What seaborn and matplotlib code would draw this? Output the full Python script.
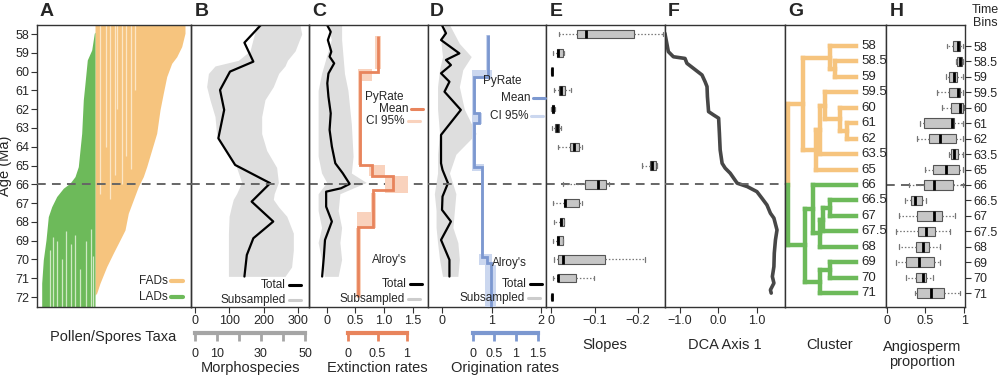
import numpy as np
import pandas as pd
import matplotlib.pyplot as plt
import seaborn as sns
from matplotlib.lines import Line2D

sns.set_style('ticks')
plt.rcParams['font.family'] = ['Liberation Sans', 'DejaVu Sans']

# ---------------- data ----------------
# A: taxa ranges (boundary of the LAD / FAD blocks)
lad_x = [4.4, 6.0, 8.7, 11.0, 14.4, 19.4, 26.0, 32.7, 37.7, 41.0, 42.7, 44.4, 46.0, 47.7, 50.0, 54.4, 57.0, 57.7]
lad_age = [71.26, 70.02, 68.96, 67.72, 67.19, 66.65, 66.21, 65.94, 65.59, 65.06, 64.17, 63.28, 61.51, 60.62, 59.38, 58.85, 57.96, 57.9]
fad_x = [57.7, 59.4, 62.7, 69.4, 76.0, 82.7, 87.7, 91.0, 96.0, 101.0, 106.0, 109.4, 114.4, 119.4, 122.7, 126.0, 129.4, 134.4, 139.4, 144.4, 147.7]
fad_age = [71.9, 71.79, 71.26, 70.38, 69.66, 68.96, 68.43, 67.54, 66.83, 66.12, 65.59, 65.06, 64.17, 63.28, 62.04, 61.15, 60.27, 59.56, 59.21, 58.67, 57.96]
fad_gap_x = [62.7, 68.7, 72.7, 77.7, 80.0, 84.4, 88.7, 93.3, 97.7]
fad_gap_end = [66.5, 64.0, 66.8, 65.5, 62.0, 66.0, 64.5, 65.2, 61.0]
lad_gap_x = [12.7, 16.0, 20.0, 24.4, 28.7, 33.3, 37.7, 42.7, 48.7, 53.3, 56.0]
lad_gap_end = [69.5, 68.8, 69.0, 70.0, 68.5, 69.2, 68.7, 70.5, 69.0, 68.4, 69.8]

# B: morphospecies
b_age = [57.52, 58.46, 59.47, 60.0, 60.98, 62.04, 63.55, 64.97, 65.94, 66.92, 67.98, 68.87, 69.76, 70.91]
b_total = [192, 144, 170, 102, 73, 85, 68, 117, 219, 165, 228, 170, 151, 144]
b_sub_age = [57.5, 58.0, 58.9, 59.4, 59.7, 60.1, 60.8, 61.5, 62.4, 63.3, 64.2, 65.1, 65.9, 66.5, 66.8, 67.2, 67.7, 68.6, 69.5, 70.4, 70.9]
b_sub_lo = [28, 27, 25, 19.7, 9.1, 6.1, 5.3, 6.8, 9.1, 9.8, 13.6, 18.9, 21.2, 18.9, 17.4, 16.5, 15.5, 15.2, 15.2, 15.2, 15.2]
b_sub_hi = [47.7, 48.5, 45.5, 42, 40.9, 38, 35.6, 31.8, 30.3, 30.3, 32.6, 37.1, 37.9, 36, 35.6, 38, 41.7, 44.7, 44.7, 43.9, 40.9]

# C: extinction rates
c_age = [57.43, 57.88, 58.32, 58.94, 59.2, 59.56, 60.1, 60.62, 61.33, 62.22, 63.1, 63.99, 64.88, 65.41, 65.98, 66.21, 66.39, 67.19, 67.98, 68.96, 69.85, 70.91]
c_total = [-0.01, 0.07, 0.02, 0.08, 0.05, 0.13, 0.03, 0.01, 0.03, 0.07, 0.05, 0.09, 0.15, 0.28, 0.40, 0.25, -0.01, -0.01, 0.09, -0.03, -0.05, -0.08]
c_sub_age = [57.5, 58.3, 60.1, 61.0, 62.8, 64.5, 65.4, 65.9, 66.5, 67.4, 68.3, 69.1, 70.0, 70.9]
c_sub_lo = [0.02, 0.08, -0.09, -0.15, -0.15, -0.15, -0.09, 0.0, -0.15, -0.15, -0.09, -0.15, -0.09, -0.04]
c_sub_hi = [0.26, 0.26, 0.31, 0.37, 0.43, 0.46, 0.43, 0.69, 0.23, 0.20, 0.26, 0.23, 0.26, 0.20]
c_mean_edges = [58.1, 60.0, 64.95, 65.55, 66.3, 68.25, 72.0]
c_mean = [0.51, 0.195, 0.40, 0.77, 0.43, 0.17]
c_ci_edges = [58.1, 59.85, 60.5, 64.95, 65.55, 66.45, 67.5, 68.35, 72.0]
c_ci_lo = [0.46, 0.17, 0.16, 0.36, 0.62, 0.39, 0.15, 0.13]
c_ci_hi = [0.56, 0.40, 0.23, 0.62, 1.02, 0.48, 0.48, 0.21]

# D: origination rates
d_age = [57.43, 57.96, 58.32, 59.03, 59.38, 59.65, 60.09, 60.54, 61.07, 62.04, 63.37, 64.88, 65.23, 65.94, 66.65, 67.36, 67.98, 68.96, 70.02, 70.91]
d_total = [-0.02, 0.08, -0.02, 0.35, 0.08, 0.18, -0.02, 0.15, 0.05, 0.38, -0.02, -0.02, 0.01, 0.12, 0.01, 0.0, 0.18, -0.02, 0.15, 0.15]
d_sub_age = [57.5, 58.5, 59.2, 59.9, 60.8, 62.0, 63.3, 64.4, 65.4, 66.5, 67.4, 68.3, 69.1, 70.0, 70.9]
d_sub_lo = [0.05, -0.02, 0.01, -0.05, -0.09, -0.09, -0.05, -0.09, -0.09, -0.155, -0.12, -0.12, -0.09, -0.05, 0.01]
d_sub_hi = [0.15, 0.35, 0.59, 0.42, 0.35, 0.45, 0.69, 0.28, 0.15, 0.28, 0.25, 0.22, 0.32, 0.35, 0.32]
d_mean_edges = [58.05, 60.27, 62.22, 62.75, 65.06, 69.85, 70.2, 72.53]
d_mean = [0.35, 0.04, 0.15, 0.04, 0.23, 0.33, 0.42]
d_ci_edges = [58.05, 59.9, 60.4, 62.2, 62.8, 64.9, 65.3, 69.7, 70.3, 72.53]
d_ci_lo = [0.31, 0.0, 0.0, 0.0, 0.0, 0.0, 0.19, 0.15, 0.30]
d_ci_hi = [0.40, 0.45, 0.08, 0.22, 0.08, 0.27, 0.27, 0.45, 0.55]

# E: slopes per 1 Myr bin
e_ages = [58, 59, 60, 61, 62, 63, 64, 65, 66, 67, 68, 69, 70, 71, 72]
e_low = [-0.018, -0.004, -0.001, -0.006, -0.001, -0.002, -0.017, -0.208, -0.027, -0.004, -0.008, -0.004, -0.008, -0.004, -0.001]
e_q1 = [-0.059, -0.014, -0.0015, -0.019, -0.002, -0.010, -0.044, -0.227, -0.078, -0.030, -0.020, -0.014, -0.015, -0.015, -0.0015]
e_med = [-0.081, -0.017, -0.002, -0.023, -0.005, -0.014, -0.053, -0.233, -0.108, -0.032, -0.024, -0.017, -0.027, -0.017, -0.002]
e_q3 = [-0.19, -0.027, -0.0025, -0.032, -0.008, -0.019, -0.064, -0.241, -0.127, -0.064, -0.030, -0.027, -0.123, -0.058, -0.0025]
e_high = [-0.257, -0.029, -0.003, -0.047, -0.009, -0.022, -0.072, -0.243, -0.133, -0.072, -0.031, -0.028, -0.216, -0.098, -0.003]

# F: DCA axis 1
f_age = [57.96, 58.5, 58.94, 59.21, 59.3, 59.56, 59.83, 60.18, 60.54, 60.8, 61.33, 62.13, 62.31, 62.48, 63.28, 64.17, 64.88, 65.14, 65.41, 65.94, 66.12, 66.39, 66.74, 67.1, 67.54, 67.8, 68.43, 68.96, 69.66, 70.38, 70.91, 71.26, 71.62, 71.79]
f_dca = [-1.38, -1.33, -1.29, -1.16, -0.86, -0.81, -0.64, -0.42, -0.34, -0.29, -0.28, -0.25, -0.12, 0.01, 0.03, 0.05, 0.10, 0.18, 0.31, 0.49, 0.75, 1.00, 1.13, 1.26, 1.35, 1.44, 1.52, 1.48, 1.45, 1.44, 1.40, 1.44, 1.35, 1.37]

# G/H: time bins, clustering and angiosperm proportion
bins = ['58', '58.5', '59', '59.5', '60', '61', '62', '63.5', '65', '66', '66.5', '67', '67.5', '68', '69', '70', '71']
merges = [(1, 2, 0.306), (0, 17, 0.388), (5, 6, 0.136), (4, 19, 0.243), (3, 20, 0.451), (21, 7, 0.534),
          (22, 8, 0.583), (18, 23, 0.777), (14, 15, 0.379), (25, 16, 0.534), (10, 11, 0.379), (27, 12, 0.485),
          (28, 13, 0.534), (9, 29, 0.631), (30, 26, 0.743), (24, 31, 1.0)]
h_low = [0.778, 0.897, 0.769, 0.650, 0.714, 0.436, 0.393, 0.799, 0.500, 0.286, 0.231, 0.158, 0.115, 0.158, 0.124, 0.248, 0.359]
h_q1 = [0.863, 0.906, 0.799, 0.799, 0.829, 0.487, 0.551, 0.829, 0.598, 0.487, 0.316, 0.385, 0.402, 0.372, 0.248, 0.372, 0.385]
h_med = [0.919, 0.949, 0.872, 0.915, 0.949, 0.842, 0.684, 0.868, 0.765, 0.615, 0.363, 0.615, 0.509, 0.470, 0.415, 0.470, 0.573]
h_q3 = [0.949, 0.970, 0.906, 0.949, 0.991, 0.872, 0.893, 0.915, 0.936, 0.863, 0.457, 0.714, 0.628, 0.551, 0.607, 0.513, 0.744]
h_high = [0.983, 0.983, 0.991, 0.991, 1.0, 0.991, 0.983, 0.983, 0.983, 0.983, 0.513, 0.885, 0.821, 0.684, 0.684, 0.598, 0.949]

# ---------------- styling ----------------
ORANGE = '#F6C47E'
GREEN = '#6DBA5A'
EXT = '#E8845C'
EXT_CI = '#F9D2BD'
ORI = '#7C98D0'
ORI_CI = '#CBD7EF'
BAND = '#DEDEDE'
BOX_FILL = '#C6C6C6'
BOX_EDGE = '#555555'
SPINE = '#333333'
AGE_LIM = (72.53, 57.52)
W, H = 1000, 385


def rect(x0, x1, y0=25, y1=307):
    return [x0 / W, 1 - y1 / H, (x1 - x0) / W, (y1 - y0) / H]


def fx(x):
    return x / W


def fy(y):
    return 1 - y / H


def key(x, y, label, color=None, lw=2.2):
    fig.text(fx(x), fy(y), label, ha='right', va='center', fontsize=8.5)
    if color is not None:
        fig.add_artist(Line2D([fx(x + 3), fx(x + 15)], [fy(y), fy(y)], color=color, lw=lw))


def scale_bar(x0, x1, lim, ticks, labels, color, label):
    sax = fig.add_axes([fx(x0), fy(333), (x1 - x0) / W, 0.0001])
    sax.set_xlim(lim)
    sax.set_xticks(ticks, labels)
    sax.set_yticks([])
    sax.patch.set_visible(False)
    for s in ['top', 'left', 'right']:
        sax.spines[s].set_visible(False)
    sax.spines['bottom'].set_color(color)
    sax.spines['bottom'].set_linewidth(3)
    sax.tick_params(axis='x', color=color, width=2, length=6, pad=5, labelsize=9)
    fig.text(fx((x0 + x1) / 2), fy(368), label, ha='center', va='center', fontsize=10.5)


fig = plt.figure(figsize=(10, 3.85), dpi=100)

axA = fig.add_axes(rect(37.3, 190.7))
axB = fig.add_axes(rect(190.7, 309.3))
axC = fig.add_axes(rect(309.3, 428.3))
axD = fig.add_axes(rect(428.3, 546))
axE = fig.add_axes(rect(546, 665))
axF = fig.add_axes(rect(665, 784.5))
axG = fig.add_axes(rect(784.5, 886))
axH = fig.add_axes(rect(886, 965))
axes = [axA, axB, axC, axD, axE, axF, axG, axH]

# A
axA.fill_between(fad_x, AGE_LIM[1], fad_age, color=ORANGE, lw=0)
axA.fill_between(lad_x, lad_age, AGE_LIM[0], color=GREEN, lw=0)
axA.vlines(fad_gap_x, AGE_LIM[1], fad_gap_end, color='#FCE6C6', lw=0.9)
axA.vlines(lad_gap_x, lad_gap_end, AGE_LIM[0], color='#CFE9C4', lw=0.9)
axA.set_xlim(0, 153.4)
axA.set_xticks([])
axA.set_yticks(range(58, 73))
axA.set_ylabel('Age (Ma)', fontsize=10.5, labelpad=2)

# B (subsampled band on its own scale, drawn below the total line)
axB2 = axB.twiny()
axB2.fill_betweenx(b_sub_age, b_sub_lo, b_sub_hi, color=BAND, lw=0)
axB2.set_xlim(-1.95, 51.95)
axB.set_zorder(axB2.get_zorder() + 1)
axB.patch.set_visible(False)
sns.lineplot(x=b_total, y=b_age, sort=False, estimator=None, orient='y', color='black', lw=1.6, ax=axB)
axB.set_xlim(-12.5, 333)
axB.set_xticks([0, 100, 200, 300])

# C
axC.fill_betweenx(c_sub_age, c_sub_lo, c_sub_hi, color=BAND, lw=0)
sns.lineplot(x=c_total, y=c_age, sort=False, estimator=None, orient='y', color='black', lw=1.6, ax=axC)
axC.set_xlim(-0.304, 1.773)
axC.set_xticks([0, 0.5, 1.0, 1.5], ['0', '0.5', '1.0', '1.5'])
axC2 = axC.twiny()
axC2.stairs(c_ci_hi, c_ci_edges, baseline=c_ci_lo, fill=True, orientation='horizontal', color=EXT_CI, lw=0)
axC2.stairs(c_mean, c_mean_edges, baseline=None, orientation='horizontal', color=EXT, lw=2)
axC2.set_xlim(-0.67, 1.37)

# D
axD.fill_betweenx(d_sub_age, d_sub_lo, d_sub_hi, color=BAND, lw=0)
sns.lineplot(x=d_total, y=d_age, sort=False, estimator=None, orient='y', color='black', lw=1.6, ax=axD)
axD.set_xlim(-0.277, 2.10)
axD.set_xticks([0, 1, 2])
axD2 = axD.twiny()
axD2.stairs(d_ci_hi, d_ci_edges, baseline=d_ci_lo, fill=True, orientation='horizontal', color=ORI_CI, lw=0)
axD2.stairs(d_mean, d_mean_edges, baseline=None, orientation='horizontal', color=ORI, lw=2)
axD2.set_xlim(-1.02, 1.70)

for tw in [axB2, axC2, axD2]:
    tw.set_ylim(AGE_LIM)
    tw.set_xticks([])
    tw.axis('off')

# E
dfE = pd.DataFrame({'age': np.repeat(e_ages, 5),
                    'slope': np.column_stack([e_low, e_q1, e_med, e_q3, e_high]).ravel()})
box_kw = dict(whis=np.inf, color=BOX_FILL, saturation=1, linecolor=BOX_EDGE, linewidth=0.8,
              medianprops=dict(color='black', linewidth=2),
              whiskerprops=dict(color='#777777', linestyle=(0, (1.2, 1.5)), linewidth=0.9),
              capprops=dict(color='#777777', linewidth=0.9))
sns.boxplot(data=dfE, x='slope', y='age', orient='h', native_scale=True, width=0.45, ax=axE, **box_kw)
axE.set_xlim(0.0115, -0.262)
axE.set_xticks([0, -0.1, -0.2], ['0', '\u22120.1', '\u22120.2'])

# F
sns.lineplot(x=f_dca, y=f_age, sort=False, estimator=None, orient='y', color='#474747', lw=2.6, ax=axF)
axF.set_xlim(-1.377, 1.714)
axF.set_xticks([-1, 0, 1], ['\u22121.0', '0.0', '1.0'])

for ax in [axA, axB, axC, axD, axE, axF]:
    ax.set_ylim(AGE_LIM)
    ax.axhline(66, color='#666666', lw=1.4, dashes=(4.5, 3.2), zorder=0.8 if ax is axE else 5)
for ax in [axB, axC, axD, axE, axF]:
    ax.set_yticks([])

# G: dendrogram of time bins
split = bins.index('66')
node_y = {i: float(i) for i in range(len(bins))}
node_h = {i: 0.0 for i in range(len(bins))}
node_c = {i: (ORANGE if i < split else GREEN) for i in range(len(bins))}
dkw = dict(lw=3.2, solid_capstyle='projecting')
for k, (a, b, h) in enumerate(merges):
    nid = len(bins) + k
    for c in (a, b):
        axG.plot([node_h[c], h], [node_y[c], node_y[c]], color=node_c[c], **dkw)
    if node_c[a] == node_c[b]:
        axG.plot([h, h], [node_y[a], node_y[b]], color=node_c[a], **dkw)
        node_c[nid] = node_c[a]
    else:
        axG.plot([h, h], [node_y[a], split], color=node_c[a], **dkw)
        axG.plot([h, h], [split, node_y[b]], color=node_c[b], **dkw)
        node_c[nid] = node_c[a]
    node_y[nid] = (node_y[a] + node_y[b]) / 2
    node_h[nid] = h
for i, b in enumerate(bins):
    axG.text(-0.07, i, b, ha='left', va='center', fontsize=9.5)
axG.set_xlim(1.049, -0.437)
axG.set_ylim(16.9, -1.36)
axG.set_xticks([])
axG.set_yticks([])

# H
dfH = pd.DataFrame({'bin': np.repeat(bins, 5),
                    'prop': np.column_stack([h_low, h_q1, h_med, h_q3, h_high]).ravel()})
axH.axhline(split, color='#666666', lw=1.4, dashes=(4.5, 3.2), zorder=0.8)
sns.boxplot(data=dfH, x='prop', y='bin', order=bins, orient='h', width=0.62, ax=axH, **box_kw)
axH.set_ylim(16.9, -1.36)
axH.set_xlim(-0.01, 1.012)
axH.set_xticks([0, 0.5, 1], ['0', '0.5', '1'])
axH.yaxis.tick_right()
axH.set_yticks(range(len(bins)), bins)

for ax in axes:
    ax.set_xlabel('')
    ax.set_ylabel(ax.get_ylabel() if ax is axA else '')
    for s in ax.spines.values():
        s.set_visible(True)
        s.set_color(SPINE)
        s.set_linewidth(1)
    ax.tick_params(length=4, width=0.8, color=SPINE, labelsize=9, pad=2)
    ax.grid(False)

# panel letters
for x, letter in zip([40, 195, 312, 430, 550, 668, 788, 890], 'ABCDEFGH'):
    fig.text(fx(x), fy(12), letter, fontsize=14, fontweight='bold', ha='left', va='center')
fig.text(fx(985), fy(10), 'Time', fontsize=9, ha='center', va='center')
fig.text(fx(985), fy(23), 'Bins', fontsize=9, ha='center', va='center')

# legends
key(168, 281, 'FADs', ORANGE, 3)
key(168, 297, 'LADs', GREEN, 3)
key(286, 285, 'Total', 'black')
key(286, 300, 'Subsampled', '#CCCCCC')
key(403, 97, 'PyRate')
key(408, 108.5, 'Mean', EXT)
key(405, 121, 'CI 95%', EXT_CI)
key(407, 260, "Alroy's")
key(407, 284, 'Total', 'black')
key(405, 299, 'Subsampled', '#CCCCCC')
key(522, 81, 'PyRate')
key(530, 97.7, 'Mean', ORI)
key(528, 115.7, 'CI 95%', ORI_CI)
key(527, 263, "Alroy's")
key(527, 284, 'Total', 'black')
key(525, 298, 'Subsampled', '#CCCCCC')

# secondary scales
scale_bar(195, 305, (0, 50), [0, 10, 20, 30, 40, 50], ['0', '10', '', '30', '', '50'], '#A5A5A5', 'Morphospecies')
scale_bar(348.3, 406.7, (0, 1), [0, 0.5, 1], ['0', '0.5', '1'], EXT, 'Extinction rates')
scale_bar(472.7, 537.7, (0, 1.5), [0, 0.5, 1, 1.5], ['0', '0.5', '1', '1.5'], ORI, 'Origination rates')

# bottom labels
fig.text(fx(113), fy(337), 'Pollen/Spores Taxa', ha='center', va='center', fontsize=10.5)
fig.text(fx(605), fy(345), 'Slopes', ha='center', va='center', fontsize=10.5)
fig.text(fx(725), fy(345), 'DCA Axis 1', ha='center', va='center', fontsize=10.5)
fig.text(fx(830), fy(345), 'Cluster', ha='center', va='center', fontsize=10.5)
fig.text(fx(922), fy(347), 'Angiosperm', ha='center', va='center', fontsize=10.5)
fig.text(fx(922), fy(362), 'proportion', ha='center', va='center', fontsize=10.5)

fig.savefig('out.png', dpi=100)
